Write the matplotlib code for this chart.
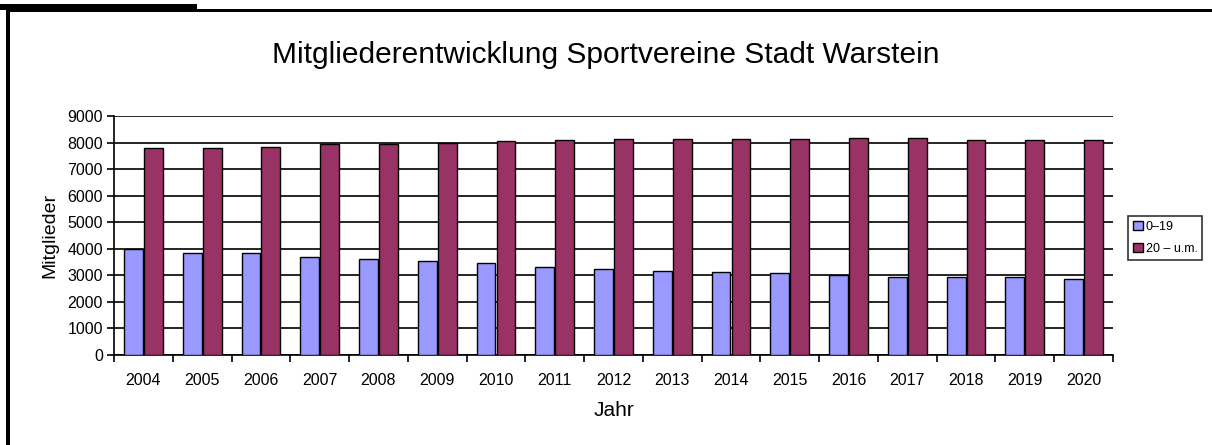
import matplotlib
matplotlib.use("Agg")
import matplotlib.pyplot as plt
from matplotlib.patches import Rectangle
import numpy as np

plt.rcParams['font.family'] = ['Liberation Sans', 'DejaVu Sans']

years = ["2004", "2005", "2006", "2007", "2008", "2009", "2010", "2011", "2012",
         "2013", "2014", "2015", "2016", "2017", "2018", "2019", "2020"]
jugend = [3980, 3850, 3850, 3700, 3610, 3540, 3480, 3330, 3250,
          3170, 3110, 3100, 3020, 2950, 2950, 2950, 2870]
erwachsene = [7780, 7780, 7840, 7930, 7930, 7990, 8070, 8080, 8150,
              8150, 8150, 8150, 8160, 8160, 8080, 8080, 8080]
labels = ["0\u201319", "20 \u2013 u.m."]
colors = ["#9999FF", "#993366"]

W, H = 1212, 445
fig = plt.figure(figsize=(W / 100, H / 100), dpi=100)
ax = fig.add_axes([114 / W, 1 - 355 / H, (1113 - 114) / W, (355 - 116) / H])

x = np.arange(len(years))
bw = 0.32
ax.bar(x - bw / 2 - 0.01, jugend, bw, color=colors[0], edgecolor="black",
       linewidth=1, label=labels[0], zorder=3)
ax.bar(x + bw / 2 + 0.01, erwachsene, bw, color=colors[1], edgecolor="black",
       linewidth=1, label=labels[1], zorder=3)

ax.set_xlim(-0.5, len(years) - 0.5)
ax.set_ylim(0, 9000)
ax.set_yticks(range(0, 9001, 1000))
ax.set_yticklabels([str(v) for v in range(0, 9001, 1000)], fontsize=11.5)
ax.yaxis.grid(True, color="black", linewidth=1.2, zorder=0)
ax.set_axisbelow(True)

ax.set_xticks(x)
ax.set_xticklabels(years, fontsize=11.5)
ax.set_xticks(np.arange(-0.5, len(years)), minor=True)
ax.tick_params(axis="x", which="major", length=0, pad=13)
ax.tick_params(axis="x", which="minor", length=5, width=1.2, direction="out")
ax.tick_params(axis="y", length=5, width=1.2, direction="out", pad=3)

for s in ["top", "right"]:
    ax.spines[s].set_visible(False)
for s in ["left", "bottom"]:
    ax.spines[s].set_linewidth(1.2)

ax.set_xlabel("Jahr", fontsize=15)
ax.xaxis.set_label_coords(0.5, (355 - 411) / 239)
ax.xaxis.label.set_va("center")
ax.set_ylabel("Mitglieder", fontsize=14)
ax.yaxis.set_label_coords((50 - 114) / 999, 0.5)
ax.yaxis.label.set_va("center")
fig.text(0.5, 1 - 63 / H, "Mitgliederentwicklung Sportvereine Stadt Warstein",
         ha="center", va="baseline", fontsize=21.5)

leg = ax.legend(loc="center left", bbox_to_anchor=(1128 / W, 1 - 238 / H),
                bbox_transform=fig.transFigure, fontsize=9, frameon=True,
                fancybox=False, edgecolor="black", handlelength=0.8,
                handleheight=0.7, handletextpad=0.2, borderpad=0.4,
                labelspacing=0.8, borderaxespad=0)
leg.get_frame().set_linewidth(1.2)

# page frame
fig.add_artist(Rectangle((0, 1 - 10 / H), 197 / W, 6 / H, transform=fig.transFigure,
                         color="black", lw=0))
fig.add_artist(Rectangle((6 / W, 1 - 12 / H), 1 - 6 / W, 3 / H, transform=fig.transFigure,
                         color="black", lw=0))
fig.add_artist(Rectangle((6 / W, 0), 4 / W, 1 - 10 / H, transform=fig.transFigure,
                         color="black", lw=0))

fig.savefig("out.png", dpi=100)
